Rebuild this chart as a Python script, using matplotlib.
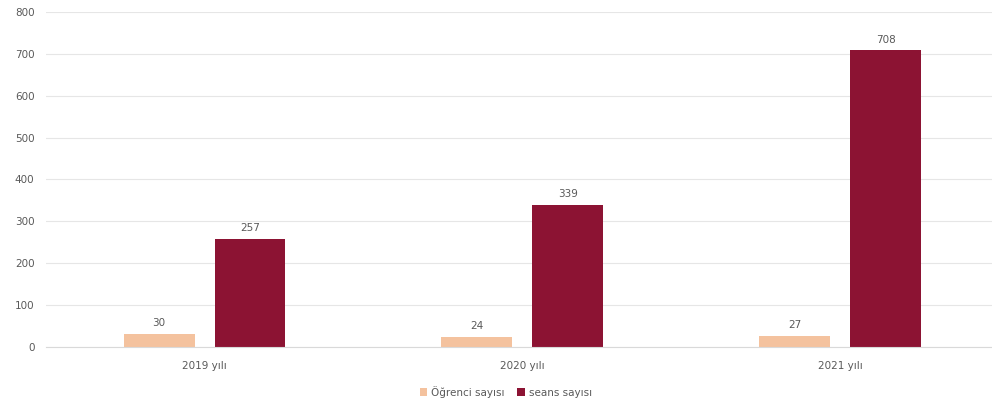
import numpy as np
import matplotlib.pyplot as plt

years = ['2019 yılı', '2020 yılı', '2021 yılı']
ogrenci = [30, 24, 27]
seans = [257, 339, 708]

c_light = '#F4C29E'
c_dark = '#8C1333'
txt = '#595959'

fig = plt.figure(figsize=(9.92, 4.11), dpi=100)
ax = fig.add_axes([0.046, 0.156, 0.961, 0.815])

x = np.arange(len(years))
w = 0.223
off = 0.143
b1 = ax.bar(x - off, ogrenci, w, color=c_light, label='Öğrenci sayısı')
b2 = ax.bar(x + off, seans, w, color=c_dark, label='seans sayısı')

for bars, vals in [(b1, ogrenci), (b2, seans)]:
    for r, v in zip(bars, vals):
        ax.text(r.get_x() + r.get_width() / 2, v + 14, str(v),
                ha='center', va='bottom', fontsize=7.5, color=txt)

ax.set_xlim(-0.5, 2.5)
ax.set_ylim(0, 800)
ax.set_yticks(range(0, 801, 100))
ax.set_xticks(x)
ax.set_xticklabels(years)
ax.tick_params(length=0, labelsize=7.5, labelcolor=txt)
ax.tick_params(axis='y', pad=8)
ax.tick_params(axis='x', pad=10)
ax.grid(axis='y', color='#e6e6e6', linewidth=0.8)
ax.set_axisbelow(True)
for s in ['top', 'right', 'left']:
    ax.spines[s].set_visible(False)
ax.spines['bottom'].set_color('#d9d9d9')

fig.legend(loc='lower center', bbox_to_anchor=(0.51, 0.01), ncol=2, frameon=False,
           fontsize=7.5, labelcolor=txt, handlelength=0.7, handleheight=0.7,
           columnspacing=1.2, handletextpad=0.4)

fig.savefig('out.png', dpi=100, facecolor='white')
